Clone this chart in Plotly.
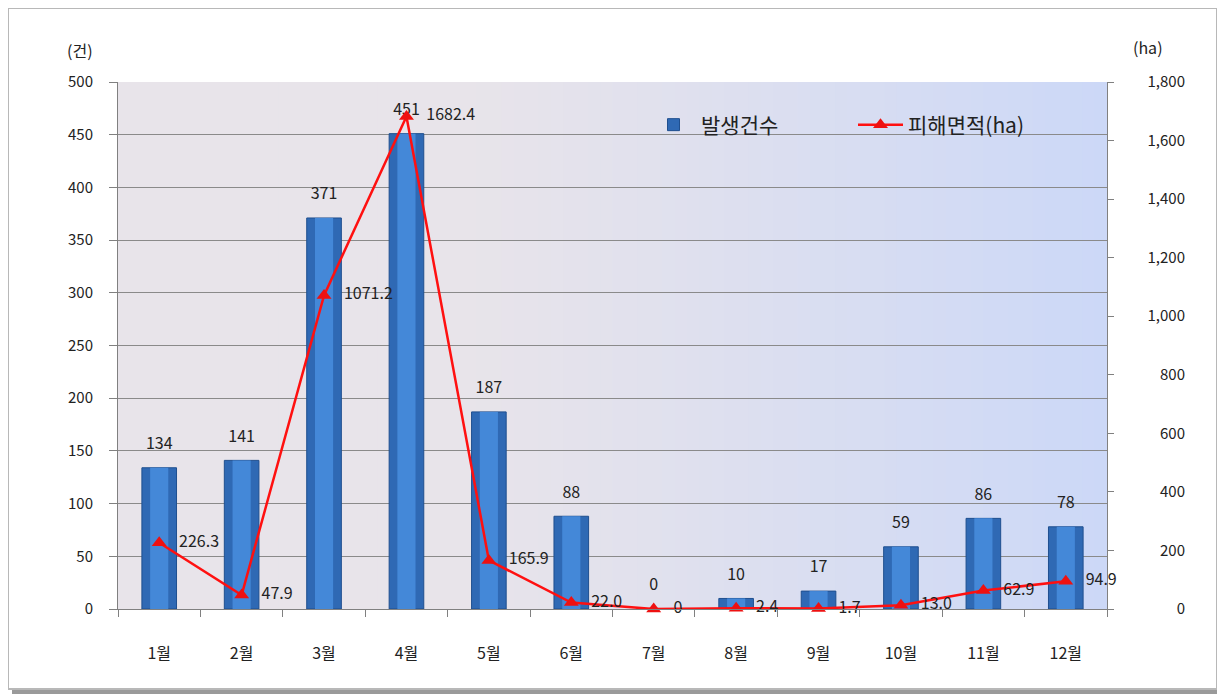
import plotly.graph_objects as go

months = ["1월", "2월", "3월", "4월", "5월", "6월", "7월", "8월", "9월", "10월", "11월", "12월"]
counts = [134, 141, 371, 451, 187, 88, 0, 10, 17, 59, 86, 78]
areas = [226.3, 47.9, 1071.2, 1682.4, 165.9, 22.0, 0, 2.4, 1.7, 13.0, 62.9, 94.9]
area_labels = ["226.3", "47.9", "1071.2", "1682.4", "165.9", "22.0", "0", "2.4", "1.7", "13.0", "62.9", "94.9"]
left_ticks = [0, 50, 100, 150, 200, 250, 300, 350, 400, 450, 500]
right_ticks = [0, 200, 400, 600, 800, 1000, 1200, 1400, 1600, 1800]
right_ticktext = ["0", "200", "400", "600", "800", "1,000", "1,200", "1,400", "1,600", "1,800"]

W, H = 1225, 697
OFF = 8  # page offset of the rendered figure
L, R, T, B = 118 - OFF, 1107 - OFF, 82 - OFF, 609 - OFF
PR = 1185 - OFF  # paper right edge (for right-aligned right-axis labels)
DOM = (R - L) / (PR - L)


def px(x):
    return (x - OFF - L) / (PR - L)


def py(y):
    return (B - (y - OFF)) / (B - T)


FONT = "Noto Sans CJK KR"
NB = "\u00a0\u00a0\u00a0"
fig = go.Figure()

fig.add_trace(go.Bar(
    x=months, y=counts, name="발생건수",
    marker=dict(color="#2f69b4", line=dict(color="#1f4f8f", width=1)),
    width=0.42,
))
fig.add_trace(go.Bar(
    x=months, y=counts, showlegend=False, hoverinfo="skip",
    marker=dict(color="#4488d8", line=dict(width=0)),
    width=0.22,
))
fig.add_trace(go.Scatter(
    x=months, y=counts, mode="markers+text", showlegend=False, hoverinfo="skip",
    marker=dict(size=22, opacity=0),
    text=[str(c) for c in counts], textposition="top center",
    textfont=dict(size=16, color="#222222", family=FONT),
    cliponaxis=False,
))
fig.add_trace(go.Scatter(
    x=months, y=areas, name="피해면적(ha)", yaxis="y2",
    mode="lines+markers+text",
    line=dict(color="#ff1010", width=2.5),
    marker=dict(symbol="triangle-up", size=13, color="#ee1111"),
    text=[NB + t for t in area_labels], textposition="middle right",
    textfont=dict(size=16, color="#222222", family=FONT),
    cliponaxis=False,
))
# invisible trace to carry right-aligned right tick labels
fig.add_trace(go.Scatter(x=months, y=areas, yaxis="y3", mode="lines",
                         line=dict(width=0), showlegend=False, hoverinfo="skip"))

shapes = []
# outer frame with shadow
shapes.append(dict(type="rect", xref="paper", yref="paper",
                   x0=px(12), x1=px(1223), y0=py(694), y1=py(12),
                   line=dict(width=0), fillcolor="#9a9a9a", layer="below"))
shapes.append(dict(type="rect", xref="paper", yref="paper",
                   x0=px(8), x1=px(1217), y0=py(689), y1=py(8),
                   line=dict(width=2, color="#b8b8b8"), fillcolor="white", layer="below"))
# gradient plot background
n = 80
c0 = (232, 228, 234)
c1 = (204, 216, 247)
for i in range(n):
    t = i / (n - 1)
    tt = max(0.0, (t - 0.35) / 0.65) ** 1.1
    col = tuple(round(c0[k] + (c1[k] - c0[k]) * tt) for k in range(3))
    shapes.append(dict(type="rect", xref="paper", yref="paper",
                       x0=DOM * i / n, x1=min(DOM, DOM * (i + 1) / n + 0.002), y0=0, y1=1,
                       line=dict(width=0), fillcolor="rgb(%d,%d,%d)" % col, layer="below"))

fig.update_layout(
    width=W, height=H,
    margin=dict(l=L, r=W - PR, t=T, b=H - B, autoexpand=False),
    paper_bgcolor="white", plot_bgcolor="rgba(0,0,0,0)",
    font=dict(family=FONT, size=14, color="#222222"),
    shapes=shapes,
    barmode="overlay",
    xaxis=dict(
        domain=[0, DOM], range=[-0.5, len(months) - 0.5], autorange=False,
        showgrid=False, showline=True, linecolor="#808080", linewidth=1,
        ticks="outside", tickson="boundaries", ticklen=7, tickcolor="#808080",
        tickfont=dict(size=16, family=FONT, color="#222222"),
        ticklabelstandoff=30,
    ),
    yaxis=dict(
        range=[0, 500], tickvals=left_ticks, showgrid=True, gridcolor="#8a8a8a", gridwidth=1,
        showline=True, linecolor="#808080", ticks="outside", ticklen=8, tickcolor="#808080",
        tickfont=dict(size=15, family=FONT, color="#222222"), zeroline=False,
        ticklabelstandoff=13,
    ),
    yaxis2=dict(
        range=[0, 1800], tickvals=right_ticks, overlaying="y", side="right",
        anchor="x", showgrid=False, showline=True, linecolor="#808080", ticks="outside",
        ticklen=6, tickcolor="#808080", showticklabels=False, zeroline=False,
    ),
    yaxis3=dict(
        range=[0, 1800], tickvals=right_ticks, ticktext=right_ticktext, overlaying="y",
        side="left", anchor="free", position=1.0,
        showgrid=False, showline=False, ticks="", zeroline=False,
        tickfont=dict(size=15, family=FONT, color="#222222"),
    ),
    showlegend=True,
    legend=dict(orientation="h", x=px(646), y=py(125), xanchor="left", yanchor="middle",
                bgcolor="rgba(0,0,0,0)", font=dict(size=21, family=FONT, color="#222222"),
                itemwidth=45, entrywidth=147),
    annotations=[
        dict(text="(건)", xref="paper", yref="paper", x=px(80), y=py(50), xanchor="center",
             yanchor="middle", showarrow=False, font=dict(size=16, family=FONT)),
        dict(text="(ha)", xref="paper", yref="paper", x=px(1148), y=py(47), xanchor="center",
             yanchor="middle", showarrow=False, font=dict(size=16, family=FONT)),
    ],
)
fig.write_html("out.html")
